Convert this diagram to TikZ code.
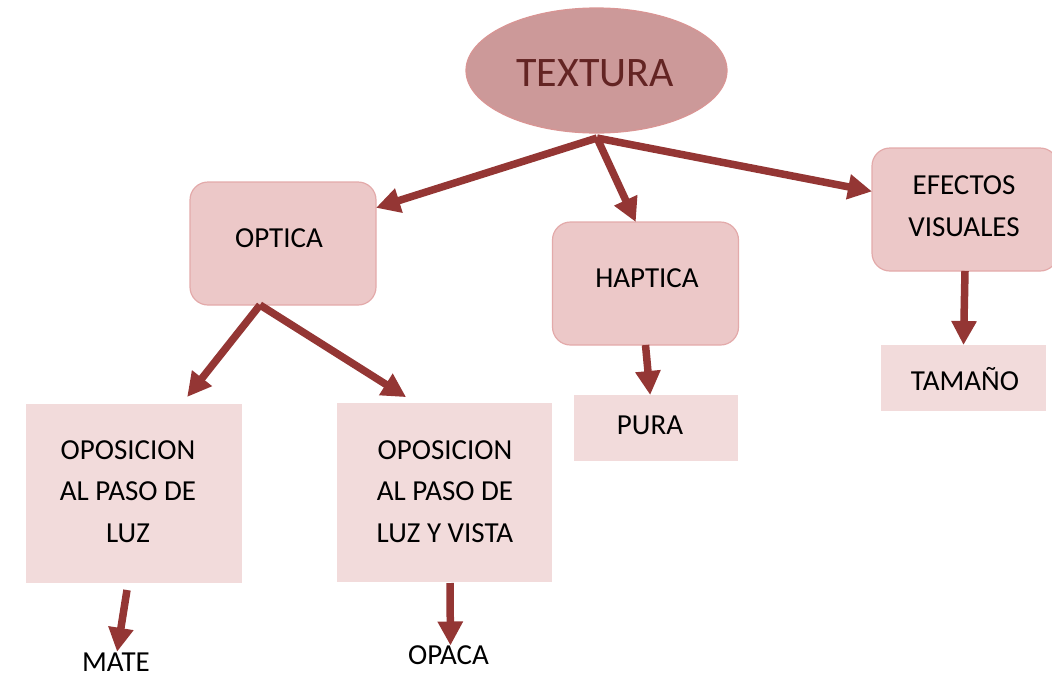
\documentclass[tikz,border=0pt]{standalone}
\usepackage{fontspec}
\setmainfont{Carlito}
\usetikzlibrary{arrows.meta,shapes.geometric,calc}
\definecolor{arrowred}{HTML}{943634}
\definecolor{ellfill}{HTML}{CC9999}
\definecolor{elldraw}{HTML}{D99594}
\definecolor{elltext}{HTML}{632423}
\definecolor{boxfill}{HTML}{ECC8C8}
\definecolor{boxdraw}{HTML}{E3AAAA}
\definecolor{rectfill}{HTML}{F2DBDB}
\tikzset{
  bodytext/.style={font=\fontsize{29}{41.5}\selectfont, align=center, text=black},
  rbox/.style={rectangle, rounded corners=18pt, fill=boxfill, draw=boxdraw, line width=1.2pt,
    minimum width=186pt, minimum height=123pt, inner sep=0pt, outer sep=0pt, bodytext},
  pbox/.style={rectangle, fill=rectfill, draw=none, inner sep=0pt, outer sep=0pt, bodytext},
  plain/.style={inner sep=0pt, outer sep=0pt, bodytext},
  conn/.style={draw=arrowred, line width=7.5pt, -{Triangle[width=24pt,length=24pt]}, arrowred},
}
\begin{document}
\begin{tikzpicture}[x=1pt,y=-1pt]
\useasboundingbox (0,0) rectangle (1052,678);
\clip (0,0) rectangle (1052,678);
% top ellipse
\node (textura) [ellipse, fill=ellfill, draw=elldraw, line width=1.2pt, minimum width=261pt, minimum height=125pt,
  inner sep=0pt, outer sep=0pt, text=elltext, font=\fontsize{42}{50}\selectfont] at (596.5,70.5) {};
\node (texturalbl) [inner sep=0pt, text=elltext, font=\fontsize{42}{50}\selectfont] at (595,73) {TEXTURA};
% rounded boxes
\node (optica) [rbox] at (283,243.5) {};
\node (opticalbl) [plain] at (279,238) {OPTICA};
\node (haptica) [rbox] at (645.5,283.5) {};
\node (hapticalbl) [plain] at (647,278) {HAPTICA};
\node (efectos) [rbox] at (965,209.5) {};
\node (efectoslbl) [plain] at (964,206) {EFECTOS\\VISUALES};
% plain boxes
\node (oposA) [pbox, minimum width=216pt, minimum height=179pt] at (134,493.5) {};
\node (oposAlbl) [plain] at (128,491.5) {OPOSICION\\AL PASO DE\\LUZ};
\node (oposB) [pbox, minimum width=215pt, minimum height=179pt] at (444.5,492.5) {};
\node (oposBlbl) [plain] at (445,491.5) {OPOSICION\\AL PASO DE\\LUZ Y VISTA};
\node (pura) [pbox, minimum width=164pt, minimum height=66pt] at (656,428) {};
\node (puralbl) [plain] at (650,425) {PURA};
\node (tamano) [pbox, minimum width=165pt, minimum height=66pt] at (963.5,378) {};
\node (tamanolbl) [plain] at (965,379) {TAMAÑO};
\node (mate) [plain] at (116,662) {MATE};
\node (opaca) [plain] at (448.5,655) {OPACA};
% connector start points
\coordinate (tx) at (597,138);
\coordinate (ops) at (260,305);
\coordinate (ms) at (127,590);
\coordinate (os) at (450,583);
% connectors
\draw[conn] (tx) -- (optica.21);
\draw[conn] (tx) -- (haptica.99);
\draw[conn] (tx) -- (efectos.169);
\draw[conn, shorten >=9pt] (ops) -- (oposA.62.6);
\draw[conn, shorten >=11pt] (ops) -- (oposB.108);
\draw[conn] (haptica.south) -- (pura.100);
\draw[conn] (efectos.south) -- (tamano.north);
\draw[conn, shorten >=7pt] (ms) -- ($(mate.north)+(0,6)$);
\draw[conn, shorten >=7pt] (os) -- ($(opaca.north)+(2,7)$);
\end{tikzpicture}
\end{document}
